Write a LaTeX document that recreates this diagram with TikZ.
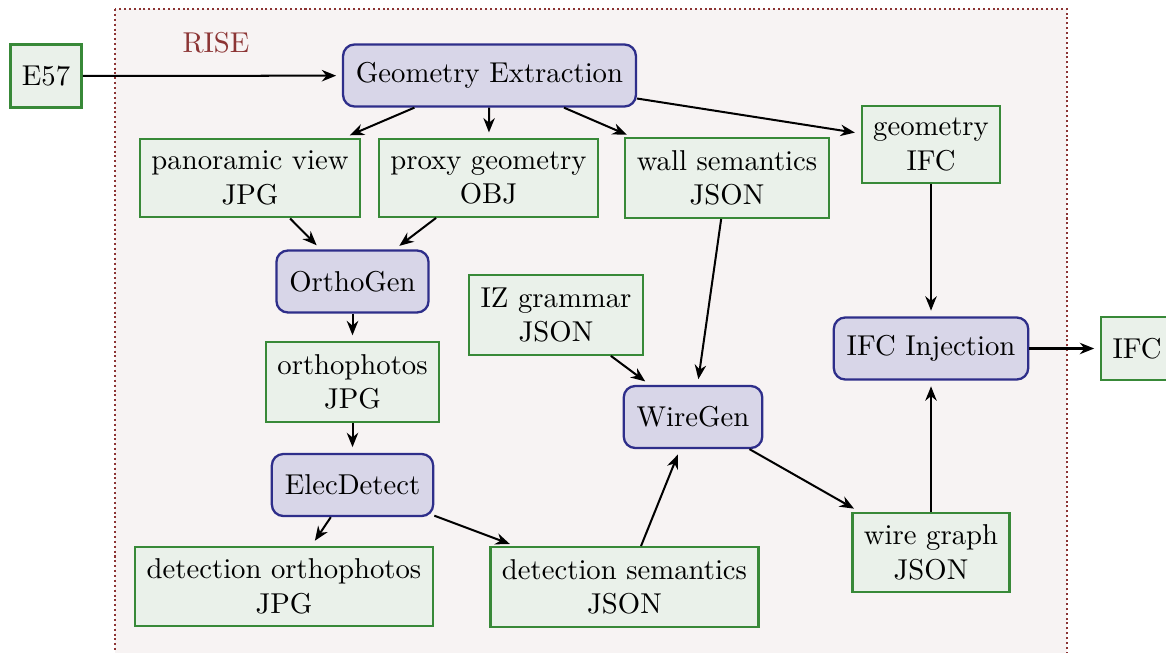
\documentclass[tikz,border=0pt]{standalone}
\usetikzlibrary{arrows.meta}
\definecolor{gborder}{RGB}{56,137,56}
\definecolor{gfill}{RGB}{234,241,234}
\definecolor{bborder}{RGB}{46,46,138}
\definecolor{bfill}{RGB}{216,214,232}
\definecolor{risecol}{RGB}{140,52,52}
\definecolor{risefill}{RGB}{247,243,243}
\begin{document}
\begin{tikzpicture}[x=0.3484pt,y=-0.3484pt,
  data/.style={draw=gborder,fill=gfill,line width=0.8pt,align=center,inner xsep=4pt,inner ysep=4.3pt,minimum height=22pt},
  proc/.style={draw=bborder,fill=bfill,line width=0.8pt,rounded corners=4pt,inner xsep=4.5pt,minimum height=21.6pt},
  flow/.style={-{Stealth[length=5pt,width=4pt]},line width=0.7pt,shorten >=2pt}]
\useasboundingbox (0,0) rectangle (1166,652);
\draw[risecol,densely dotted,line width=0.7pt,fill=risefill] (115,9) rectangle (1067,680);
\node[text=risecol] (rise) at (216,43) {RISE};

\node[data] (e57) at (46,76) {E57};
\node[proc] (ge) at (489.5,75.5) {Geometry Extraction};
\node[data] (pano) at (250,178) {panoramic view\\JPG};
\node[data] (proxy) at (488.5,178) {proxy geometry\\OBJ};
\node[data] (wall) at (727,178) {wall semantics\\JSON};
\node[data] (gifc) at (931,144.5) {geometry\\IFC};
\node[proc] (ortho) at (352.5,281.5) {OrthoGen};
\node[data] (iz) at (556,315) {IZ grammar\\JSON};
\node[data] (photos) at (352.5,382) {orthophotos\\JPG};
\node[proc] (wire) at (693,417) {WireGen};
\node[proc] (inj) at (931,348.5) {IFC Injection};
\node[data] (ifc) at (1137,348.5) {IFC};
\node[proc] (elec) at (352.5,485) {ElecDetect};
\node[data] (dortho) at (284,586.5) {detection orthophotos\\JPG};
\node[data] (dsem) at (624.5,587) {detection semantics\\JSON};
\node[data] (wgraph) at (931,552.5) {wire graph\\JSON};

\draw[flow] (e57) -- (ge);
\draw[flow] (ge) -- (pano);
\draw[flow] (ge) -- (proxy);
\draw[flow] (ge) -- (wall);
\draw[flow] (ge) -- (gifc);
\draw[flow] (pano) -- (ortho);
\draw[flow] (proxy) -- (ortho);
\draw[flow] (ortho) -- (photos);
\draw[flow] (photos) -- (elec);
\draw[flow] (elec) -- (dortho);
\draw[flow] (elec) -- (dsem);
\draw[flow] (dsem) -- (wire);
\draw[flow] (iz) -- (wire);
\draw[flow] (wall) -- (wire);
\draw[flow] (wire) -- (wgraph);
\draw[flow] (wgraph) -- (inj);
\draw[flow] (gifc) -- (inj);
\draw[flow] (inj) -- (ifc);
\end{tikzpicture}
\end{document}
